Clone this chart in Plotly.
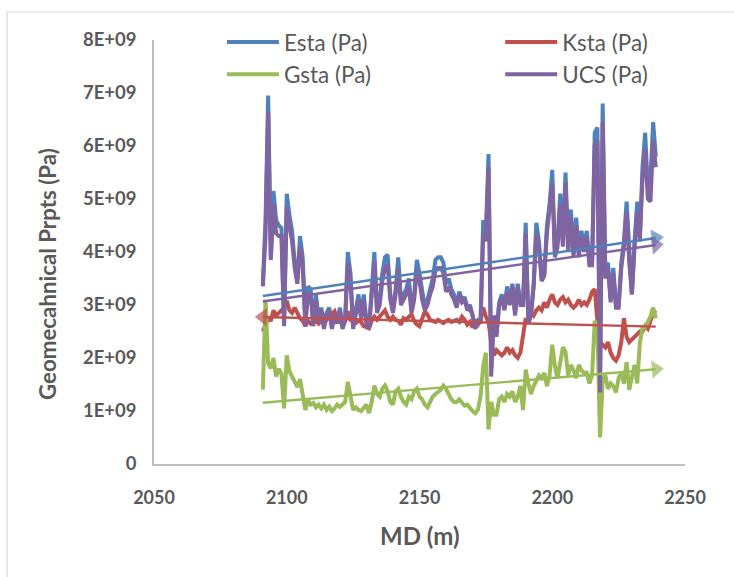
import numpy as np
import plotly.graph_objects as go

md = list(range(2091, 2240))

esta = [3.4, 4.6, 6.95, 3.9, 5.15, 4.6, 4.5, 4.45, 2.65, 5.1,
        4.7, 4.4, 3.8, 3.5, 4.3, 3.9, 2.65, 3.35, 3.3, 2.65,
        3.2, 2.75, 2.95, 2.6, 2.85, 2.95, 2.6, 2.85, 2.7, 2.95,
        2.6, 2.75, 4.0, 3.6, 2.6, 2.9, 3.2, 2.8, 3.2, 2.7,
        2.6, 3.3, 4.0, 2.9, 3.1, 3.6, 3.9, 3.95, 3.2, 2.9,
        3.3, 3.9, 3.1, 3.2, 3.3, 3.5, 2.9, 3.2, 3.85, 3.6,
        3.2, 2.95, 3.1, 3.3, 3.5, 3.85, 3.9, 3.9, 3.8, 3.4,
        3.5, 3.3, 3.2, 3.0, 3.25, 3.1, 3.15, 2.95, 3.0, 2.8,
        2.6, 2.7, 2.7, 4.6, 4.35, 5.85, 1.8, 2.8, 2.45, 3.05,
        3.2, 2.95, 3.35, 3.05, 3.4, 2.85, 3.4, 3.05, 3.0, 4.55,
        2.65, 2.85, 3.4, 4.55, 4.2, 3.5, 3.6, 4.5, 4.9, 5.55,
        4.0, 4.2, 5.1, 4.2, 5.5, 4.1, 4.8, 4.0, 4.65, 4.0,
        4.4, 4.1, 4.4, 3.8, 3.8, 6.25, 6.35, 1.6, 6.8, 3.6,
        3.8, 3.1, 3.7, 3.0, 3.0, 3.8, 4.2, 4.95, 3.9, 3.2,
        4.2, 4.95, 4.3, 5.6, 6.25, 5.2, 5.4, 6.45, 5.8]

ksta = [2.5, 2.65, 2.75, 2.7, 2.9, 2.8, 2.85, 2.9, 2.95, 3.08,
        2.9, 2.85, 2.95, 2.85, 2.75, 2.7, 2.6, 2.7, 2.65, 2.7,
        2.7, 2.65, 2.7, 2.78, 2.72, 2.78, 2.82, 2.88, 2.72, 2.68,
        2.65, 2.7, 2.88, 2.72, 2.68, 2.66, 2.7, 2.68, 2.6, 2.58,
        2.56, 2.7, 2.78, 2.72, 2.78, 2.82, 2.9, 2.78, 2.72, 2.78,
        2.72, 2.7, 2.63, 2.75, 2.72, 2.78, 2.82, 2.7, 2.63, 2.6,
        2.72, 2.88, 2.82, 2.72, 2.7, 2.68, 2.72, 2.68, 2.66, 2.7,
        2.72, 2.68, 2.7, 2.72, 2.68, 2.78, 2.72, 2.63, 2.68, 2.58,
        2.68, 2.63, 2.72, 2.95, 2.78, 2.68, 2.3, 2.05, 2.15, 2.1,
        2.05, 2.1, 2.2, 2.1, 2.15, 2.05, 2.0, 2.1, 2.45, 2.75,
        2.65, 2.85, 2.8, 2.9, 2.95, 2.9, 3.05, 2.95, 3.1, 3.2,
        3.05, 3.0, 3.1, 3.15, 3.05, 3.1, 3.0, 2.95, 3.0, 3.1,
        3.0, 3.05, 3.0, 3.1, 3.25, 3.3, 2.7, 2.3, 2.25, 2.2,
        2.3, 2.1, 2.0, 1.95, 2.05, 2.3, 2.75, 2.4, 2.3, 2.35,
        2.4, 2.45, 2.5, 2.5, 2.6, 2.55, 2.7, 2.85, 2.9]

gsta = [1.4, 3.1, 1.9, 1.8, 2.0, 1.65, 1.8, 1.7, 1.05, 2.05,
        1.75, 1.65, 1.55, 1.45, 1.6, 1.3, 1.02, 1.2, 1.12, 1.15,
        1.07, 1.12, 1.05, 1.12, 1.02, 1.08, 1.0, 1.05, 1.12, 1.08,
        1.12, 1.17, 1.55, 1.27, 1.02, 1.07, 1.02, 1.0, 1.07, 1.12,
        0.96, 1.17, 1.48, 1.32, 1.27, 1.42, 1.48, 1.37, 1.17, 1.12,
        1.37, 1.42, 1.27, 1.17, 1.12, 1.27, 1.22, 1.37, 1.42, 1.27,
        1.22, 1.12, 1.07, 1.17, 1.27, 1.32, 1.37, 1.4, 1.48, 1.42,
        1.32, 1.22, 1.17, 1.17, 1.22, 1.17, 1.1, 1.12, 1.05, 1.0,
        0.96, 1.02, 1.28, 1.85, 2.1, 0.65, 1.17, 0.93, 0.93, 1.22,
        1.27, 1.17, 1.32, 1.27, 1.37, 1.17, 1.27, 1.47, 1.02, 1.78,
        1.52, 1.32, 1.47, 1.57, 1.67, 1.62, 1.72, 1.47, 1.67, 2.25,
        1.85, 1.62, 1.87, 2.2, 2.12, 1.67, 1.87, 1.77, 1.62, 1.87,
        1.77, 1.72, 1.72, 1.52, 1.67, 2.7, 2.6, 0.5, 1.6, 1.67,
        1.42, 1.52, 1.47, 1.35, 1.62, 1.72, 1.52, 1.92, 1.4, 1.62,
        1.87, 1.52, 2.28, 2.58, 2.58, 2.68, 2.78, 2.95, 2.75]

ucs = [3.35, 4.3, 6.65, 3.85, 4.9, 4.35, 4.3, 4.3, 2.6, 4.85,
       4.5, 4.2, 3.7, 3.4, 4.1, 3.75, 2.6, 3.2, 3.2, 2.6,
       3.1, 2.7, 2.9, 2.55, 2.8, 2.9, 2.55, 2.8, 2.65, 2.9,
       2.55, 2.7, 3.8, 3.45, 2.55, 2.85, 3.1, 2.75, 3.1, 2.65,
       2.55, 3.2, 3.8, 2.85, 3.0, 3.45, 3.7, 3.75, 3.1, 2.85,
       3.2, 3.7, 3.0, 3.1, 3.2, 3.35, 2.85, 3.1, 3.65, 3.45,
       3.1, 2.9, 3.0, 3.2, 3.35, 3.65, 3.7, 3.7, 3.6, 3.25,
       3.35, 3.2, 3.1, 2.95, 3.2, 3.05, 3.1, 2.9, 2.95, 2.8,
       2.55, 2.7, 2.65, 4.35, 4.2, 5.6, 1.65, 2.8, 2.4, 3.0,
       3.15, 2.9, 3.25, 3.0, 3.35, 2.8, 3.35, 3.0, 3.0, 4.35,
       2.65, 2.8, 3.35, 4.35, 4.1, 3.45, 3.55, 4.35, 4.75, 5.3,
       3.9, 4.1, 4.9, 4.1, 5.3, 4.0, 4.65, 3.9, 4.5, 3.9,
       4.3, 4.0, 4.3, 3.75, 3.75, 6.0, 6.1, 1.35, 6.45, 3.5,
       3.7, 3.05, 3.6, 2.95, 2.95, 3.7, 4.1, 4.75, 3.8, 3.2,
       4.1, 4.75, 4.2, 5.4, 5.95, 5.0, 4.95, 6.1, 5.6]

names = ["Esta (Pa)", "Ksta (Pa)", "Gsta (Pa)", "UCS (Pa)"]
colors = ["#4F81BD", "#C0504D", "#9BBB59", "#8064A2"]
series = [esta, ksta, gsta, ucs]
arrow_at_start = [False, True, False, False]
legend_ids = ["legend", "legend2", "legend", "legend2"]

x_ticks = [2050, 2100, 2150, 2200, 2250]
y_ticks = [0, 1, 2, 3, 4, 5, 6, 7, 8]
y_ticktext = ["0", "1E+09", "2E+09", "3E+09", "4E+09", "5E+09", "6E+09", "7E+09", "8E+09"]

fig = go.Figure()
for name, col, vals, leg in zip(names, colors, series, legend_ids):
    fig.add_trace(go.Scatter(x=md, y=vals, mode="lines", name=name,
                             line=dict(color=col, width=4),
                             legend=leg, legendgroup=name))

md_arr = np.array(md, dtype=float)
for name, col, vals, at_start in zip(names, colors, series, arrow_at_start):
    k, b = np.polyfit(md_arr, np.array(vals), 1)
    xs = [md_arr[0], md_arr[-1]]
    ys = [k * xs[0] + b, k * xs[1] + b]
    if at_start:
        xs, ys = xs[::-1], ys[::-1]
    fig.add_trace(go.Scatter(x=xs, y=ys, mode="lines+markers", showlegend=False,
                             hoverinfo="skip",
                             line=dict(color=col, width=2.4),
                             marker=dict(symbol="triangle-up", size=[0, 16],
                                         angleref="previous", color=col,
                                         line=dict(width=0))))

leg_font = dict(size=22.5, color="#595959", family="Lato")
fig.update_layout(
    width=734, height=577,
    margin=dict(l=154, r=49, t=40, b=113),
    plot_bgcolor="white", paper_bgcolor="white",
    font=dict(family="Lato", color="#595959"),
    showlegend=True,
    legend=dict(x=0.128, y=1.045, xanchor="left", yanchor="top",
                orientation="v", itemwidth=52, tracegroupgap=0,
                font=leg_font, bgcolor="rgba(0,0,0,0)"),
    legend2=dict(x=0.652, y=1.045, xanchor="left", yanchor="top",
                 orientation="v", itemwidth=52, tracegroupgap=0,
                 font=leg_font, bgcolor="rgba(0,0,0,0)"),
    xaxis=dict(range=[2050, 2250], tickvals=x_ticks, showline=True,
               linecolor="#BFBFBF", linewidth=1.5, showgrid=False, zeroline=False,
               ticks="", ticklabelstandoff=17,
               tickfont=dict(size=18, weight="bold", color="#595959")),
    yaxis=dict(range=[0, 8], tickvals=y_ticks, ticktext=y_ticktext, showline=True,
               linecolor="#BFBFBF", linewidth=1.5, showgrid=False, zeroline=False,
               ticks="", ticklabelstandoff=12,
               tickfont=dict(size=18.5, weight="bold", color="#595959")),
    annotations=[
        dict(text="<b>MD (m)</b>", x=0.5, y=0, xref="paper", yref="paper",
             yshift=-71, showarrow=False, yanchor="middle",
             font=dict(size=24, color="#595959")),
        dict(text="<b>Geomecahnical Prpts (Pa)</b>", x=0, y=0.5, xref="paper",
             yref="paper", xshift=-107, yshift=-22, showarrow=False, textangle=-90,
             xanchor="center", yanchor="middle",
             font=dict(size=22.3, color="#595959")),
    ],
    shapes=[dict(type="rect", xref="paper", yref="paper",
                 x0=-0.2768, x1=1.12, y0=-0.35, y1=1.066,
                 line=dict(color="#D9D9D9", width=1.2), layer="below")],
)

fig.write_html("out.html", config={"displayModeBar": False},
               post_script="document.body.style.margin='0';")
